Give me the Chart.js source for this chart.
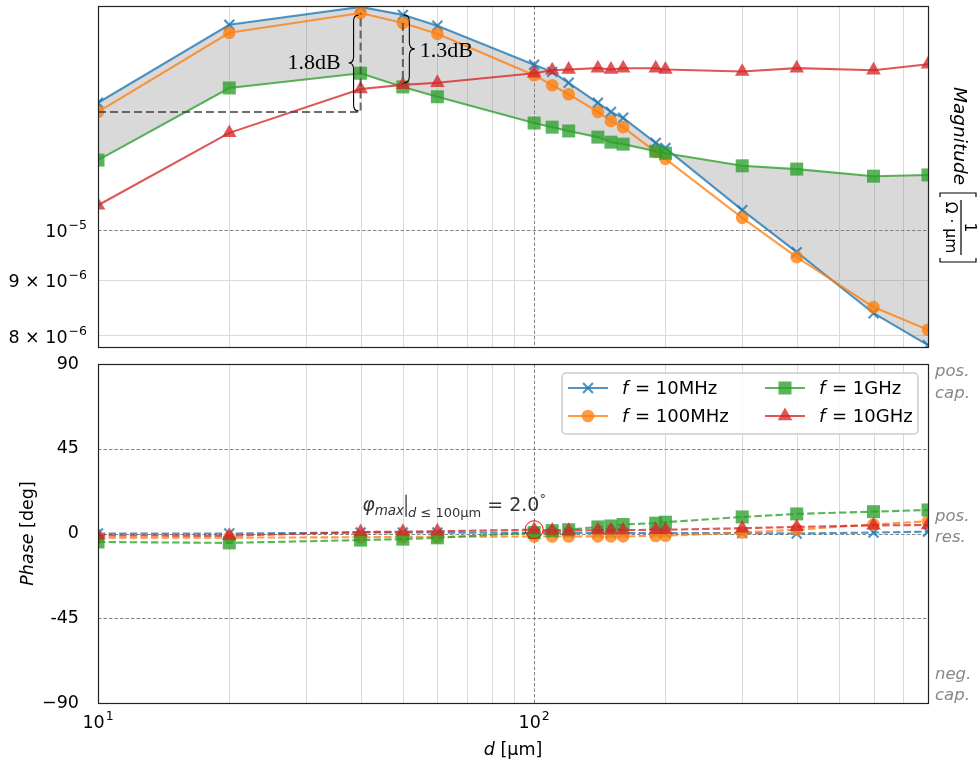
<!DOCTYPE html>
<html>
<head>
<meta charset="utf-8">
<title>Magnitude and phase vs distance</title>
<script src="https://cdn.jsdelivr.net/npm/chart.js@4.4.1/dist/chart.umd.min.js"></script>
<style>
  html, body { margin: 0; padding: 0; background: #fff; }
  #wrap { position: relative; width: 979px; height: 765px; overflow: hidden; }
  #wrap canvas { position: absolute; left: 0; }
  #magChart { top: 0; }
  #phaseChart { top: 352px; }
</style>
</head>
<body>
<div id="wrap">
  <canvas id="magChart" width="979" height="352"></canvas>
  <canvas id="phaseChart" width="979" height="413"></canvas>
</div>
<script>
// distance d [µm], shared by both panels
const distances = [10, 20, 40, 50, 60, 100, 110, 120, 140, 150, 160, 190, 200, 300, 400, 600, 800];

const freqNames = ['10MHz', '100MHz', '1GHz', '10GHz'];

// magnitude [1/(Ohm*um)]
const mag10MHz  = [1.310e-5, 1.546e-5, 1.606e-5, 1.579e-5, 1.543e-5, 1.420e-5, 1.399e-5, 1.367e-5, 1.310e-5, 1.285e-5, 1.269e-5, 1.203e-5, 1.190e-5, 1.043e-5, 9.54e-6, 8.38e-6, 7.83e-6];
const mag100MHz = [1.285e-5, 1.520e-5, 1.585e-5, 1.552e-5, 1.517e-5, 1.389e-5, 1.360e-5, 1.334e-5, 1.285e-5, 1.260e-5, 1.244e-5, 1.180e-5, 1.163e-5, 1.026e-5, 9.44e-6, 8.49e-6, 8.09e-6];
const mag1GHz   = [1.160e-5, 1.352e-5, 1.395e-5, 1.355e-5, 1.327e-5, 1.255e-5, 1.244e-5, 1.234e-5, 1.218e-5, 1.205e-5, 1.200e-5, 1.182e-5, 1.177e-5, 1.146e-5, 1.138e-5, 1.121e-5, 1.124e-5];
const mag10GHz  = [1.054e-5, 1.229e-5, 1.349e-5, 1.361e-5, 1.367e-5, 1.395e-5, 1.404e-5, 1.406e-5, 1.410e-5, 1.406e-5, 1.410e-5, 1.410e-5, 1.406e-5, 1.400e-5, 1.410e-5, 1.404e-5, 1.422e-5];

// phase [deg]
const phase10MHz  = [0.0, 0.0, 0.5, 0.5, 0.5, 0.3, 0.3, 0.3, 0.3, 0.3, 0.3, 0.3, 0.3, 0.2, 0.0, 0.5, 1.0];
const phase100MHz = [-2.2, -2.2, -2.0, -1.8, -1.7, -1.6, -1.6, -1.6, -1.5, -1.5, -1.5, -1.3, -1.2, 0.5, 2.0, 4.8, 6.5];
const phase1GHz   = [-4.5, -5.0, -3.5, -3.0, -2.3, 0.5, 1.5, 2.0, 3.5, 4.0, 4.8, 5.5, 6.0, 8.8, 10.4, 11.6, 12.5];
const phase10GHz  = [-1.0, -1.2, 0.8, 1.0, 1.2, 2.0, 1.6, 1.5, 1.8, 1.8, 1.8, 2.0, 2.0, 2.8, 3.5, 4.3, 4.5];

// ticks (labels given as [mantissa part, exponent])
const xTickValues = [10, 100];
const xTickLabels = [['10', '1'], ['10', '2']];
const xMinorGrid = [20, 30, 40, 50, 60, 70, 80, 90, 200, 300, 400, 500, 600, 700, 800];
const xMajorGrid = [100];
const magTickValues = [8e-6, 9e-6, 1e-5];
const magTickLabels = [['8 \u00d7 10', '\u22126'], ['9 \u00d7 10', '\u22126'], ['10', '\u22125']];
const magMinorGrid = [8e-6, 9e-6];
const magMajorGrid = [1e-5];
const phaseTickValues = [-90, -45, 0, 45, 90];
const phaseTickLabels = ['\u221290', '-45', '0', '45', '90'];
const phaseMajorGrid = [-45, 0, 45];

const colors = ['rgba(31,119,180,0.78)', 'rgba(255,127,14,0.78)', 'rgba(44,160,44,0.78)', 'rgba(214,39,40,0.78)'];
const markerStyles = ['crossRot', 'circle', 'rect', 'triangle'];
const markerRadii = [7, 6.3, 9.2, 8.4];

const FONT = '"DejaVu Sans"';
Chart.defaults.font.family = FONT + ', sans-serif';
Chart.defaults.color = '#000';

function buildDatasets(series, dashed) {
  return series.map(function(values, i) {
    return {
      label: 'f = ' + freqNames[i],
      data: distances.map(function(d, j) { return { x: d, y: values[j] }; }),
      borderColor: colors[i],
      backgroundColor: colors[i],
      pointBackgroundColor: colors[i],
      pointBorderColor: colors[i],
      pointStyle: markerStyles[i],
      pointRadius: markerRadii[i],
      pointBorderWidth: i === 0 ? 2.2 : 0,
      borderWidth: 2.1,
      borderDash: dashed ? [7.4, 3.2] : [],
      fill: false,
      tension: 0,
      order: 4 - i
    };
  });
}

// "10" with a raised exponent, like matplotlib's mathtext tick labels
function powerLabel(ctx, parts, x, baseline, align) {
  ctx.font = '17.5px ' + FONT;
  const w1 = ctx.measureText(parts[0]).width;
  ctx.font = '12.5px ' + FONT;
  const w2 = ctx.measureText(parts[1]).width + 1;
  let sx = align === 'right' ? x - w1 - w2 : x - (w1 + w2) / 2;
  ctx.textAlign = 'left';
  ctx.textBaseline = 'alphabetic';
  ctx.font = '17.5px ' + FONT;
  ctx.fillText(parts[0], sx, baseline);
  ctx.font = '12.5px ' + FONT;
  ctx.fillText(parts[1], sx + w1 + 1, baseline - 8);
}

function gridPlugin(yMinor, yMajor) {
  return {
    id: 'mplGrid',
    beforeDatasetsDraw(chart) {
      const { ctx, chartArea: a, scales: { x, y } } = chart;
      const vline = v => { const p = Math.round(x.getPixelForValue(v)) + 0.5; ctx.beginPath(); ctx.moveTo(p, a.top); ctx.lineTo(p, a.bottom); ctx.stroke(); };
      const hline = v => { const p = Math.round(y.getPixelForValue(v)) + 0.5; ctx.beginPath(); ctx.moveTo(a.left, p); ctx.lineTo(a.right, p); ctx.stroke(); };
      ctx.save();
      ctx.strokeStyle = '#dadada';
      ctx.lineWidth = 1;
      xMinorGrid.forEach(vline);
      yMinor.forEach(hline);
      ctx.strokeStyle = '#777';
      ctx.lineWidth = 0.9;
      ctx.setLineDash([3.5, 2]);
      xMajorGrid.forEach(vline);
      yMajor.forEach(hline);
      ctx.restore();
    },
    afterDraw(chart) {
      const { ctx, chartArea: a } = chart;
      ctx.save();
      ctx.strokeStyle = '#222';
      ctx.lineWidth = 1.2;
      ctx.strokeRect(Math.round(a.left) + 0.5, Math.round(a.top) + 0.5, Math.round(a.right - a.left), Math.round(a.bottom - a.top));
      ctx.restore();
    }
  };
}

function drawBrace(ctx, x0, y1, y2, w) {
  const ym = (y1 + y2) / 2, h = w / 2, r = Math.min(Math.abs(w) * 0.6, (y2 - y1) / 4);
  ctx.beginPath();
  ctx.moveTo(x0, y1);
  ctx.quadraticCurveTo(x0 + h, y1, x0 + h, y1 + r);
  ctx.lineTo(x0 + h, ym - r);
  ctx.quadraticCurveTo(x0 + h, ym, x0 + w, ym);
  ctx.quadraticCurveTo(x0 + h, ym, x0 + h, ym + r);
  ctx.lineTo(x0 + h, y2 - r);
  ctx.quadraticCurveTo(x0 + h, y2, x0, y2);
  ctx.stroke();
}

function dB(a, b) { return (20 * Math.log10(a / b)).toFixed(1) + 'dB'; }

const magAnnotations = {
  id: 'magAnnotations',
  afterDatasetsDraw(chart) {
    const { ctx, scales: { x, y } } = chart;
    const px = v => x.getPixelForValue(v);
    const py = v => y.getPixelForValue(v);
    const x10 = px(distances[0]), x40 = px(distances[2]), x50 = px(distances[3]);
    const yRef = py(mag100MHz[0]), yPeak = py(mag100MHz[2]);
    ctx.save();
    ctx.strokeStyle = 'rgba(70,70,70,0.8)';
    ctx.lineWidth = 2;
    ctx.setLineDash([8, 4]);
    ctx.beginPath();
    ctx.moveTo(x10, yRef); ctx.lineTo(x40, yRef); ctx.lineTo(x40, yPeak);
    ctx.stroke();
    ctx.beginPath();
    ctx.moveTo(x50, py(mag100MHz[3])); ctx.lineTo(x50, py(mag10GHz[3]));
    ctx.stroke();

    ctx.setLineDash([]);
    ctx.strokeStyle = '#000';
    ctx.lineWidth = 1.1;
    drawBrace(ctx, x40 - 2, yPeak + 2, yRef - 1, -10);
    const yTop50 = py(mag10MHz[3]), yBot50 = py(mag10GHz[3]);
    drawBrace(ctx, x50 + 1, yTop50, yBot50 - 2, 11);

    ctx.fillStyle = '#000';
    ctx.font = '22px "Liberation Serif", "DejaVu Serif", serif';
    ctx.textBaseline = 'middle';
    ctx.textAlign = 'right';
    ctx.fillText(dB(mag100MHz[2], mag100MHz[0]), x40 - 20, (yPeak + yRef) / 2 + 1);
    ctx.textAlign = 'left';
    ctx.fillText(dB(mag10MHz[3], mag10GHz[3]), x50 + 17, (yTop50 + yBot50) / 2 + 1);

    // y tick labels
    magTickValues.forEach(function(v, k) {
      powerLabel(ctx, magTickLabels[k], x.left - 11, py(v) + 7.5, 'right');
    });

    // right-hand axis label, rotated clockwise
    ctx.textAlign = 'left';
    ctx.textBaseline = 'alphabetic';
    ctx.translate(954, 87);
    ctx.rotate(Math.PI / 2);
    ctx.font = 'italic 18.5px ' + FONT;
    ctx.fillText('Magnitude', 0, 0);
    ctx.setTransform(1, 0, 0, 1, 0, 0);
    ctx.translate(961, 193);
    ctx.rotate(Math.PI / 2);
    ctx.lineWidth = 1.2;
    ctx.beginPath();
    ctx.moveTo(4, -15); ctx.lineTo(0, -15); ctx.lineTo(0, 21); ctx.lineTo(4, 21);
    ctx.moveTo(65, -15); ctx.lineTo(69, -15); ctx.lineTo(69, 21); ctx.lineTo(65, 21);
    ctx.moveTo(7, 0); ctx.lineTo(62, 0);
    ctx.stroke();
    ctx.textAlign = 'center';
    ctx.font = '15.5px ' + FONT;
    ctx.fillText('1', 34.5, -4);
    ctx.fillText('\u03a9 \u00b7 \u00b5m', 34.5, 15);
    ctx.restore();
  }
};

const legendPlugin = {
  id: 'mplLegend',
  afterDraw(chart) {
    const { ctx, chartArea: a } = chart;
    const w = 356, h = 61;
    const bx = a.right - 10 - w, by = a.top + 9;
    ctx.save();
    ctx.fillStyle = 'rgba(255,255,255,0.85)';
    ctx.strokeStyle = '#cccccc';
    ctx.lineWidth = 1.5;
    ctx.beginPath();
    ctx.roundRect(bx, by, w, h, 4);
    ctx.fill();
    ctx.stroke();
    const slots = [[0, 0], [0, 1], [1, 0], [1, 1]]; // [col, row], column-major order
    chart.data.datasets.forEach(function(ds, i) {
      const col = slots[i][0], row = slots[i][1];
      const lx = bx + 6 + col * 197, ly = by + 15 + row * 28;
      ctx.strokeStyle = ds.borderColor;
      ctx.lineWidth = 2;
      ctx.beginPath(); ctx.moveTo(lx, ly); ctx.lineTo(lx + 40, ly); ctx.stroke();
      drawMarker(ctx, ds.pointStyle, lx + 20, ly, ds.pointRadius, ds.borderColor);
      ctx.fillStyle = '#000';
      ctx.textBaseline = 'middle';
      ctx.textAlign = 'left';
      ctx.font = 'italic 18px ' + FONT;
      const tx = lx + 54;
      ctx.fillText('f', tx, ly + 1);
      const fw = ctx.measureText('f').width;
      ctx.font = '18px ' + FONT;
      ctx.fillText(' = ' + freqNames[i], tx + fw + 1, ly + 1);
    });
    ctx.restore();
  }
};

function drawMarker(ctx, style, x, y, r, color) {
  ctx.fillStyle = color;
  ctx.strokeStyle = color;
  ctx.beginPath();
  if (style === 'circle') {
    ctx.arc(x, y, r, 0, 2 * Math.PI);
    ctx.fill();
  } else if (style === 'rect') {
    const s = r * Math.SQRT1_2;
    ctx.rect(x - s, y - s, 2 * s, 2 * s);
    ctx.fill();
  } else if (style === 'triangle') {
    for (let k = 0; k < 3; k++) {
      const ang = k * 2 * Math.PI / 3;
      const px = x + Math.sin(ang) * r, py = y - Math.cos(ang) * r;
      if (k === 0) ctx.moveTo(px, py); else ctx.lineTo(px, py);
    }
    ctx.closePath();
    ctx.fill();
  } else {
    const o = r * Math.SQRT1_2;
    ctx.lineWidth = 2.2;
    ctx.moveTo(x - o, y - o); ctx.lineTo(x + o, y + o);
    ctx.moveTo(x + o, y - o); ctx.lineTo(x - o, y + o);
    ctx.stroke();
  }
}

const phaseAnnotations = {
  id: 'phaseAnnotations',
  afterDraw(chart) {
    const { ctx, chartArea: a, scales: { x, y } } = chart;
    // maximum phase for d <= 100 µm
    const all = [phase10MHz, phase100MHz, phase1GHz, phase10GHz];
    let best = { v: -Infinity, d: 0 };
    all.forEach(function(arr) {
      arr.forEach(function(v, j) { if (distances[j] <= 100 && v > best.v) best = { v: v, d: distances[j] }; });
    });
    const ax = x.getPixelForValue(best.d), ay = y.getPixelForValue(best.v);
    ctx.save();
    ctx.strokeStyle = '#ff0000';
    ctx.lineWidth = 1;
    ctx.beginPath(); ctx.arc(ax, ay, 9, 0, 2 * Math.PI); ctx.stroke();

    const segs = [
      { t: '\u03c6', f: 'italic 19px ' + FONT, dy: 0 },
      { t: 'max', f: 'italic 13.5px ' + FONT, dy: 4 },
      { bar: true },
      { t: 'd', f: 'italic 13px ' + FONT, dy: 6.5 },
      { t: ' \u2264 100\u00b5m', f: '13px ' + FONT, dy: 6.5 },
      { t: ' = ' + best.v.toFixed(1), f: '19px ' + FONT, dy: 0 },
      { t: '\u00b0', f: '13px ' + FONT, dy: -8 }
    ];
    let cx = ax - 172;
    const base = ay - 19;
    ctx.fillStyle = '#333';
    ctx.strokeStyle = '#333';
    ctx.textAlign = 'left';
    ctx.textBaseline = 'alphabetic';
    segs.forEach(function(s) {
      if (s.bar) {
        ctx.lineWidth = 1.3;
        ctx.beginPath(); ctx.moveTo(cx + 2, base - 16); ctx.lineTo(cx + 2, base + 6); ctx.stroke();
        cx += 4;
        return;
      }
      ctx.font = s.f;
      ctx.fillText(s.t, cx, base + s.dy);
      cx += ctx.measureText(s.t).width;
    });

    // x tick labels
    ctx.fillStyle = '#000';
    xTickValues.forEach(function(v, k) {
      powerLabel(ctx, xTickLabels[k], x.getPixelForValue(v), a.bottom + 25, 'center');
    });

    // region labels on the right
    ctx.fillStyle = '#888';
    ctx.font = 'italic 16.5px ' + FONT;
    const rx = a.right + 7;
    const yTop = y.getPixelForValue(90), yMid = y.getPixelForValue(0), yBot = y.getPixelForValue(-90);
    ctx.fillText('pos.', rx, yTop + 12); ctx.fillText('cap.', rx, yTop + 33.5);
    ctx.fillText('pos.', rx, yMid - 13); ctx.fillText('res.', rx, yMid + 8.5);
    ctx.fillText('neg.', rx, yBot - 24.5); ctx.fillText('cap.', rx, yBot - 3);

    // axis titles
    ctx.fillStyle = '#000';
    ctx.font = 'italic 17.5px ' + FONT;
    const dW = ctx.measureText('d').width;
    ctx.font = '17.5px ' + FONT;
    const restX = ' [\u00b5m]';
    const rW = ctx.measureText(restX).width;
    const tx = (a.left + a.right) / 2 - (dW + rW) / 2;
    const ty = a.bottom + 52;
    ctx.font = 'italic 17.5px ' + FONT;
    ctx.fillText('d', tx, ty);
    ctx.font = '17.5px ' + FONT;
    ctx.fillText(restX, tx + dW, ty);

    ctx.translate(33, (a.top + a.bottom) / 2);
    ctx.rotate(-Math.PI / 2);
    ctx.font = 'italic 17.5px ' + FONT;
    const pW = ctx.measureText('Phase').width;
    ctx.font = '17.5px ' + FONT;
    const uW = ctx.measureText(' [deg]').width;
    const sx = -(pW + uW) / 2;
    ctx.font = 'italic 17.5px ' + FONT;
    ctx.fillText('Phase', sx, 0);
    ctx.font = '17.5px ' + FONT;
    ctx.fillText(' [deg]', sx + pW, 0);
    ctx.restore();
  }
};

function tickFrom(values, labels) {
  return function(value) {
    const k = values.findIndex(v => Math.abs(v - value) <= Math.abs(v) * 1e-6);
    return k >= 0 ? labels[k] : '';
  };
}

// keep the plot frame exactly where the layout padding puts it
function fixWidth(w) {
  return function(s) { s.width = w; s.paddingTop = 0; s.paddingBottom = 0; };
}
function fixHeight(h) {
  return function(s) { s.height = h; s.paddingLeft = 0; s.paddingRight = 0; };
}

const xBase = {
  type: 'logarithmic',
  min: 10,
  max: 800,
  grid: { display: false },
  border: { display: false },
  ticks: { display: false }
};

new Chart(document.getElementById('magChart'), {
  type: 'line',
  data: {
    datasets: buildDatasets([mag10MHz, mag100MHz, mag1GHz, mag10GHz], false).map(function(ds, i) {
      if (i === 0) ds.fill = { target: 2, above: 'rgba(128,128,128,0.3)', below: 'rgba(128,128,128,0.3)' };
      return ds;
    })
  },
  options: {
    responsive: false,
    devicePixelRatio: 1,
    animation: false,
    layout: { autoPadding: false, padding: { left: 0, right: 51, top: 6, bottom: 5 } },
    plugins: { legend: { display: false }, tooltip: { enabled: false } },
    scales: {
      x: Object.assign({}, xBase, { afterFit: fixHeight(0) }),
      y: {
        type: 'logarithmic',
        min: 7.80e-6,
        max: 1.609e-5,
        grid: { display: false },
        border: { display: false },
        ticks: { display: false },
        afterBuildTicks: function(s) { s.ticks = magTickValues.map(v => ({ value: v })); },
        afterFit: fixWidth(98)
      }
    }
  },
  plugins: [gridPlugin(magMinorGrid, magMajorGrid), magAnnotations]
});

new Chart(document.getElementById('phaseChart'), {
  type: 'line',
  data: { datasets: buildDatasets([phase10MHz, phase100MHz, phase1GHz, phase10GHz], true) },
  options: {
    responsive: false,
    devicePixelRatio: 1,
    animation: false,
    layout: { autoPadding: false, padding: { left: 0, right: 51, top: 12, bottom: 0 } },
    plugins: { legend: { display: false }, tooltip: { enabled: false } },
    scales: {
      x: Object.assign({}, xBase, {
        afterBuildTicks: function(s) { s.ticks = xTickValues.map(v => ({ value: v })); },
        afterFit: fixHeight(62)
      }),
      y: {
        type: 'linear',
        min: -90,
        max: 90,
        grid: { display: false },
        border: { display: false },
        ticks: { autoSkip: false, padding: 11, font: { size: 17.5 }, callback: tickFrom(phaseTickValues, phaseTickLabels) },
        afterBuildTicks: function(s) { s.ticks = phaseTickValues.map(v => ({ value: v })); },
        afterFit: fixWidth(98)
      }
    }
  },
  plugins: [gridPlugin([], phaseMajorGrid), legendPlugin, phaseAnnotations]
});
</script>
</body>
</html>
